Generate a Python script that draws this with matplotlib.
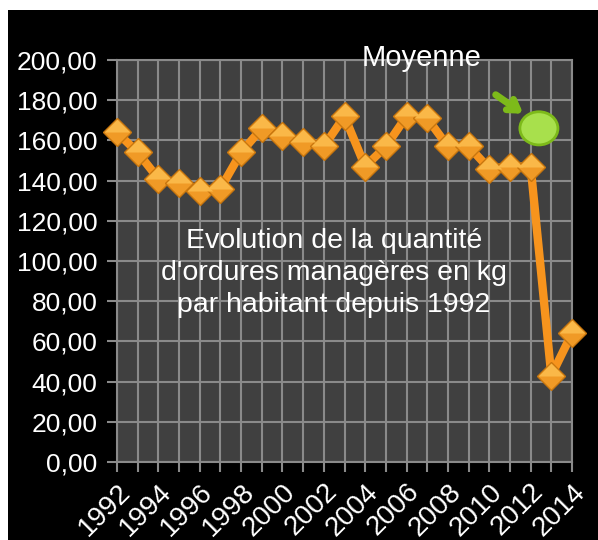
import matplotlib.pyplot as plt
from matplotlib.patches import Ellipse, Rectangle
from matplotlib.path import Path

plt.rcParams['font.family'] = ['Liberation Sans', 'DejaVu Sans']

years = list(range(1992, 2015))
quantite = [164, 154, 141, 139, 135, 136, 154, 166, 162, 159, 157, 172,
            147, 157, 172, 171, 157, 157, 146, 147, 147, 43, 64]
year_labels = [str(y) for y in years[::2]]
y_ticks = list(range(0, 201, 20))
y_labels = ["%d,00" % v for v in y_ticks]

moyenne_pos = (2012.4, 166)

fig = plt.figure(figsize=(5.98, 5.40), dpi=100, facecolor='black')
# bord blanc en haut et a gauche
fig.patches.append(Rectangle((0, 1 - 10 / 540), 1, 10 / 540,
                             transform=fig.transFigure, facecolor='white',
                             edgecolor='none'))
fig.patches.append(Rectangle((0, 0), 8 / 598, 1,
                             transform=fig.transFigure, facecolor='white',
                             edgecolor='none'))

ax = fig.add_axes([117 / 598, 78 / 540, 455 / 598, 402 / 540])
ax.set_facecolor('#404040')
ax.set_xlim(1992, 2014)
ax.set_ylim(0, 200)

ax.set_xticks(years, minor=True)
ax.set_xticks(years[::2])
ax.set_xticklabels(year_labels, rotation=45, ha='right', rotation_mode='anchor',
                   fontsize=20, color='white')
ax.set_yticks(y_ticks)
ax.set_yticklabels(y_labels, fontsize=19, color='white')
ax.tick_params(axis='both', which='both', color='#8a8a8a', width=1.5, length=7)
ax.tick_params(axis='x', which='major', pad=5)
ax.tick_params(axis='y', which='major', pad=7)

ax.grid(True, which='both', color='#8a8a8a', linewidth=1.5)
ax.set_axisbelow(True)
for s in ax.spines.values():
    s.set_color('#8a8a8a')
    s.set_linewidth(1.5)

ax.plot(years, quantite, color='#F7941D', linewidth=6, zorder=3, clip_on=False)

# losanges en "pyramide" : base foncée + moitié haute plus claire
haut = Path([(-1, 0), (0, 1), (1, 0), (-1, 0)])
ax.plot(years, quantite, linestyle='none', marker='D', markersize=14.5,
        markerfacecolor='#F09A26', markeredgecolor='#C8760E', markeredgewidth=1,
        zorder=4, clip_on=False)
ax.plot(years, quantite, linestyle='none', marker=haut, markersize=18.5,
        markerfacecolor='#FAB848', markeredgecolor='none', zorder=5, clip_on=False)

ax.add_patch(Ellipse(moyenne_pos, 1.84, 16.5, facecolor='#A8E04C',
                     edgecolor='#7DBA1A', linewidth=2, zorder=6))
ax.annotate('', xy=(2011.75, 172.5), xytext=(2010.2, 183.5),
            arrowprops=dict(arrowstyle='->,head_length=0.7,head_width=0.45',
                            color='#7DBA1A', lw=5), zorder=6)

fig.text(422 / 598, 1 - 58 / 540, 'Moyenne', ha='center', va='center',
         fontsize=21, color='white')
fig.text(334 / 598, 1 - 273 / 540,
         "Evolution de la quantité\nd'ordures managères en kg\npar habitant depuis 1992",
         ha='center', va='center', fontsize=20.5, color='white', linespacing=1.3)

fig.savefig('out.png', dpi=100, facecolor=fig.get_facecolor())
